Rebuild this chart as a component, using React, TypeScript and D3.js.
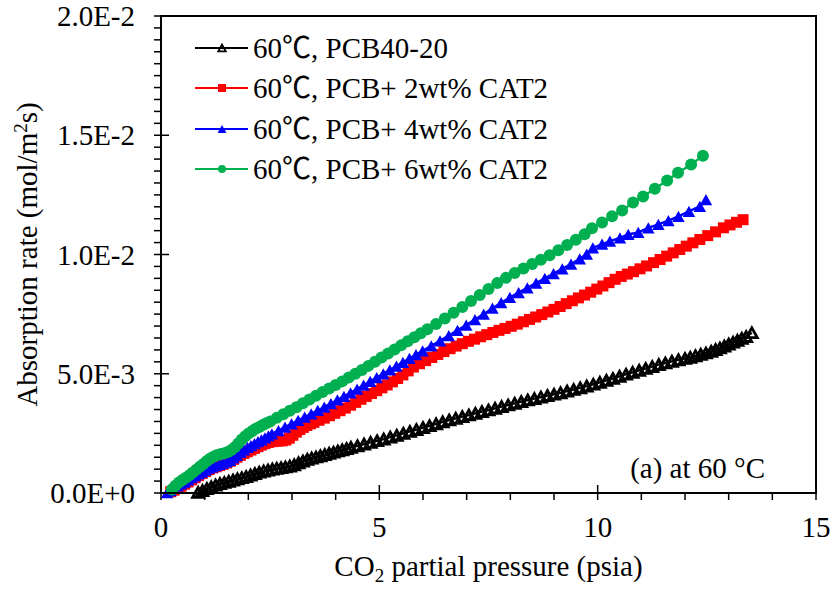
import React from "react";
import * as d3 from "d3";

// y values are in units of 1e-3 mol/(m2 s)
const xTickValues = [0, 5, 10, 15];
const xTickLabels = ["0", "5", "10", "15"];
const yTickValues = [0, 5, 10, 15, 20];
const yTickLabels = ["0.0E+0", "5.0E-3", "1.0E-2", "1.5E-2", "2.0E-2"];

const seriesNames = [
  "60\u2103, PCB40-20",
  "60\u2103, PCB+ 2wt% CAT2",
  "60\u2103, PCB+ 4wt% CAT2",
  "60\u2103, PCB+ 6wt% CAT2",
];
const seriesColors = ["#000000", "#FF0000", "#0000FF", "#00B050"];
const seriesMarkers = ["openTriangle", "square", "triangle", "circle"];

const pcb4020: [number, number][] = [
  [0.85, 0.03], [0.95, 0.1], [1.05, 0.18], [1.15, 0.26], [1.25, 0.33], [1.35, 0.39], [1.45, 0.44],
  [1.55, 0.49], [1.65, 0.54], [1.75, 0.59], [1.85, 0.64], [1.95, 0.69], [2.05, 0.75], [2.15, 0.81],
  [2.25, 0.87], [2.35, 0.92], [2.45, 0.96], [2.55, 1.0], [2.65, 1.03], [2.75, 1.06], [2.85, 1.09],
  [2.95, 1.13], [3.05, 1.18], [3.15, 1.26], [3.25, 1.34], [3.35, 1.41], [3.45, 1.46], [3.55, 1.51],
  [3.65, 1.56], [3.75, 1.61], [3.85, 1.66], [3.95, 1.71], [4.05, 1.76], [4.15, 1.81], [4.25, 1.86],
  [4.35, 1.91], [4.5, 1.98], [4.65, 2.05], [4.8, 2.12], [4.95, 2.19], [5.1, 2.26], [5.25, 2.34],
  [5.4, 2.42], [5.55, 2.5], [5.7, 2.58], [5.85, 2.66], [6.0, 2.74], [6.15, 2.82], [6.3, 2.9],
  [6.45, 2.98], [6.6, 3.06], [6.75, 3.13], [6.9, 3.2], [7.05, 3.27], [7.2, 3.34], [7.35, 3.41],
  [7.5, 3.48], [7.65, 3.55], [7.8, 3.62], [7.95, 3.69], [8.1, 3.76], [8.25, 3.83], [8.4, 3.9],
  [8.55, 3.96], [8.7, 4.02], [8.85, 4.08], [9.0, 4.14], [9.15, 4.2], [9.3, 4.27], [9.45, 4.34],
  [9.6, 4.41], [9.75, 4.48], [9.9, 4.56], [10.05, 4.64], [10.2, 4.72], [10.35, 4.8], [10.5, 4.89],
  [10.65, 4.98], [10.8, 5.06], [10.95, 5.14], [11.1, 5.22], [11.25, 5.3], [11.4, 5.38], [11.55, 5.45],
  [11.7, 5.52], [11.85, 5.58], [12.0, 5.64], [12.12, 5.69], [12.24, 5.75], [12.36, 5.81], [12.48, 5.87],
  [12.6, 5.94], [12.7, 6.01], [12.8, 6.08], [12.9, 6.16], [13.0, 6.24], [13.1, 6.32], [13.2, 6.4],
  [13.3, 6.48], [13.4, 6.56], [13.53, 6.72],
];

const cat2wt2: [number, number][] = [
  [0.22, 0.05], [0.3, 0.12], [0.38, 0.2], [0.46, 0.28], [0.54, 0.37], [0.62, 0.46], [0.7, 0.55],
  [0.78, 0.64], [0.86, 0.73], [0.94, 0.82], [1.02, 0.9], [1.1, 0.98], [1.18, 1.05], [1.26, 1.1],
  [1.34, 1.15], [1.42, 1.2], [1.5, 1.26], [1.58, 1.33], [1.66, 1.41], [1.74, 1.5], [1.82, 1.58],
  [1.9, 1.66], [1.98, 1.73], [2.06, 1.8], [2.14, 1.87], [2.22, 1.94], [2.3, 2.01], [2.38, 2.07],
  [2.46, 2.12], [2.54, 2.15], [2.62, 2.17], [2.7, 2.18], [2.78, 2.19], [2.86, 2.22], [2.94, 2.3],
  [3.02, 2.42], [3.1, 2.55], [3.18, 2.66], [3.26, 2.75], [3.34, 2.83], [3.42, 2.9], [3.5, 2.96],
  [3.62, 3.05], [3.74, 3.14], [3.86, 3.24], [3.98, 3.34], [4.1, 3.45], [4.22, 3.56], [4.34, 3.68],
  [4.46, 3.8], [4.58, 3.93], [4.7, 4.05], [4.82, 4.17], [4.94, 4.29], [5.06, 4.41], [5.18, 4.53],
  [5.3, 4.66], [5.42, 4.8], [5.54, 4.95], [5.66, 5.12], [5.78, 5.28], [5.92, 5.42], [6.06, 5.55],
  [6.2, 5.68], [6.34, 5.81], [6.48, 5.93], [6.62, 6.05], [6.76, 6.16], [6.9, 6.26], [7.04, 6.36],
  [7.18, 6.45], [7.32, 6.55], [7.46, 6.64], [7.6, 6.73], [7.74, 6.82], [7.88, 6.9], [8.02, 6.99],
  [8.16, 7.08], [8.3, 7.18], [8.44, 7.28], [8.58, 7.38], [8.72, 7.48], [8.86, 7.59], [9.0, 7.7],
  [9.14, 7.82], [9.28, 7.94], [9.42, 8.06], [9.56, 8.18], [9.7, 8.3], [9.84, 8.42], [9.98, 8.55],
  [10.12, 8.68], [10.26, 8.82], [10.4, 8.96], [10.54, 9.08], [10.68, 9.18], [10.82, 9.28], [10.97, 9.4],
  [11.12, 9.52], [11.28, 9.66], [11.43, 9.79], [11.58, 9.93], [11.73, 10.07], [11.88, 10.21],
  [12.03, 10.35], [12.18, 10.49], [12.34, 10.63], [12.52, 10.79], [12.7, 10.95], [12.88, 11.12],
  [13.03, 11.24], [13.18, 11.35], [13.33, 11.46],
];

const cat2wt4: [number, number][] = [
  [0.14, 0.02], [0.22, 0.1], [0.3, 0.2], [0.38, 0.3], [0.46, 0.38], [0.54, 0.46], [0.62, 0.55],
  [0.7, 0.64], [0.78, 0.72], [0.86, 0.8], [0.94, 0.88], [1.02, 0.96], [1.1, 1.04], [1.18, 1.1],
  [1.26, 1.15], [1.34, 1.2], [1.42, 1.25], [1.5, 1.3], [1.58, 1.37], [1.66, 1.47], [1.74, 1.58],
  [1.82, 1.7], [1.9, 1.81], [1.98, 1.91], [2.06, 1.99], [2.14, 2.07], [2.22, 2.15], [2.3, 2.23],
  [2.38, 2.31], [2.46, 2.39], [2.54, 2.48], [2.69, 2.62], [2.84, 2.76], [2.99, 2.9], [3.14, 3.04],
  [3.29, 3.18], [3.44, 3.32], [3.59, 3.46], [3.74, 3.6], [3.89, 3.75], [4.04, 3.9], [4.19, 4.05],
  [4.34, 4.2], [4.49, 4.36], [4.64, 4.52], [4.79, 4.68], [4.94, 4.84], [5.09, 5.0], [5.24, 5.16],
  [5.39, 5.32], [5.54, 5.48], [5.69, 5.64], [5.84, 5.8], [5.99, 5.96], [6.19, 6.17], [6.39, 6.38],
  [6.59, 6.6], [6.79, 6.82], [6.99, 7.04], [7.19, 7.27], [7.39, 7.5], [7.59, 7.75], [7.79, 7.98],
  [7.99, 8.2], [8.19, 8.4], [8.39, 8.6], [8.59, 8.8], [8.79, 9.0], [8.99, 9.2], [9.19, 9.4],
  [9.39, 9.6], [9.59, 9.82], [9.75, 10.02], [9.89, 10.28], [10.1, 10.43], [10.28, 10.56],
  [10.51, 10.7], [10.7, 10.84], [10.93, 10.93], [11.16, 11.12], [11.39, 11.26], [11.62, 11.42],
  [11.85, 11.6], [12.09, 11.81], [12.34, 12.02], [12.48, 12.3],
];

const cat2wt6: [number, number][] = [
  [0.25, 0.15], [0.33, 0.3], [0.41, 0.44], [0.49, 0.55], [0.57, 0.64], [0.65, 0.74], [0.73, 0.86],
  [0.81, 0.98], [0.89, 1.1], [0.97, 1.22], [1.05, 1.34], [1.13, 1.45], [1.21, 1.53], [1.29, 1.59],
  [1.37, 1.63], [1.45, 1.67], [1.53, 1.72], [1.61, 1.8], [1.69, 1.92], [1.77, 2.08], [1.85, 2.24],
  [1.93, 2.38], [2.01, 2.5], [2.09, 2.6], [2.17, 2.69], [2.25, 2.77], [2.33, 2.85], [2.41, 2.92],
  [2.5, 3.0], [2.65, 3.15], [2.8, 3.3], [2.95, 3.45], [3.1, 3.6], [3.25, 3.76], [3.4, 3.92],
  [3.55, 4.08], [3.7, 4.23], [3.85, 4.38], [4.0, 4.53], [4.15, 4.68], [4.3, 4.84], [4.45, 5.0],
  [4.6, 5.16], [4.75, 5.33], [4.9, 5.5], [5.05, 5.68], [5.2, 5.85], [5.35, 6.02], [5.5, 6.19],
  [5.65, 6.36], [5.8, 6.53], [5.95, 6.7], [6.1, 6.87], [6.3, 7.09], [6.5, 7.32], [6.7, 7.56],
  [6.9, 7.8], [7.1, 8.05], [7.3, 8.3], [7.5, 8.55], [7.7, 8.8], [7.9, 9.02], [8.1, 9.22],
  [8.3, 9.41], [8.5, 9.6], [8.7, 9.78], [8.9, 9.97], [9.1, 10.18], [9.3, 10.4], [9.5, 10.62],
  [9.7, 10.85], [9.87, 11.1], [10.1, 11.34], [10.33, 11.6], [10.56, 11.84], [10.81, 12.18],
  [11.04, 12.43], [11.31, 12.76], [11.59, 13.1], [11.84, 13.43], [12.14, 13.77], [12.41, 14.14],
];

const allSeries = [pcb4020, cat2wt2, cat2wt4, cat2wt6];

const W = 835;
const H = 590;
const plot = { left: 161, right: 816, top: 16, bottom: 493 };
const FONT = "'Liberation Serif', 'Times New Roman', 'Noto Sans CJK SC', serif";
const FS = 29;

function Marker({ kind, x, y, color, s, sw = 2.2 }: { kind: string; x: number; y: number; color: string; s: number; sw?: number }) {
  if (kind === "circle") {
    return <circle cx={x} cy={y} r={s / 2} fill={color} />;
  }
  if (kind === "square") {
    return <rect x={x - s / 2} y={y - s / 2} width={s} height={s} fill={color} />;
  }
  const h = s * 0.9;
  const pts = `${x - s / 2},${y + h / 2} ${x + s / 2},${y + h / 2} ${x},${y - h / 2}`;
  if (kind === "openTriangle") {
    return <polygon points={pts} fill="none" stroke={color} strokeWidth={sw} />;
  }
  return <polygon points={pts} fill={color} />;
}

export default function App() {
  const x = d3.scaleLinear().domain([0, 15]).range([plot.left, plot.right]);
  const y = d3.scaleLinear().domain([0, 20]).range([plot.bottom, plot.top]);
  const line = d3
    .line<[number, number]>()
    .x((d) => x(d[0]))
    .y((d) => y(d[1]));

  const xMinor = d3.range(0, 15.001, 1).filter((v) => v % 5 !== 0);
  const yMinor = d3.range(0, 20.001, 0.5).filter((v) => Math.abs(v % 5) > 1e-6);

  const markerSizes = [11, 11, 12.5, 12];
  const legendSizes = [7.5, 8, 9, 8];
  const legendRows = [48, 88, 129, 169];

  return (
    <svg
      width={W}
      height={H}
      style={{ position: "absolute", left: 0, top: 0, background: "#fff" }}
      fontFamily={FONT}
    >
      <rect x={0} y={0} width={W} height={H} fill="#fff" />
      {allSeries.map((data, i) => (
        <g key={i}>
          <path d={line(data) || ""} fill="none" stroke={seriesColors[i]} strokeWidth={2.4} />
          {data.map((d, j) => (
            <Marker
              key={j}
              kind={seriesMarkers[i]}
              x={x(d[0])}
              y={y(d[1])}
              color={seriesColors[i]}
              s={markerSizes[i]}
              sw={2.8}
            />
          ))}
        </g>
      ))}
      <rect
        x={plot.left}
        y={plot.top}
        width={plot.right - plot.left}
        height={plot.bottom - plot.top}
        fill="none"
        stroke="#000"
        strokeWidth={2}
      />
      {xMinor.map((v) => (
        <line key={"xm" + v} x1={x(v)} x2={x(v)} y1={plot.bottom} y2={plot.bottom + 7} stroke="#000" strokeWidth={1.5} />
      ))}
      {xTickValues.map((v, i) => (
        <g key={"xt" + v}>
          <line x1={x(v)} x2={x(v)} y1={plot.bottom - 8} y2={plot.bottom + 7} stroke="#000" strokeWidth={1.5} />
          <text x={x(v)} y={plot.bottom + 44} textAnchor="middle" fontSize={FS}>
            {xTickLabels[i]}
          </text>
        </g>
      ))}
      {yMinor.map((v) => (
        <line key={"ym" + v} x1={plot.left - 7} x2={plot.left} y1={y(v)} y2={y(v)} stroke="#000" strokeWidth={1.5} />
      ))}
      {yTickValues.map((v, i) => (
        <g key={"yt" + v}>
          <line x1={plot.left - 7} x2={plot.left + 8} y1={y(v)} y2={y(v)} stroke="#000" strokeWidth={1.5} />
          <text x={135} y={y(v) + 10} textAnchor="end" fontSize={FS}>
            {yTickLabels[i]}
          </text>
        </g>
      ))}
      <text x={(plot.left + plot.right) / 2} y={576} textAnchor="middle" fontSize={FS}>
        CO
        <tspan fontSize={19} dy={6}>2</tspan>
        <tspan dy={-6}> partial pressure (psia)</tspan>
      </text>
      <text
        transform={`translate(37, ${(plot.top + plot.bottom) / 2}) rotate(-90)`}
        textAnchor="middle"
        fontSize={FS}
      >
        Absorption rate (mol/m
        <tspan fontSize={19} dy={-10}>2</tspan>
        <tspan dy={10}>s)</tspan>
      </text>
      {seriesNames.map((name, i) => (
        <g key={"lg" + i}>
          <line x1={195} x2={248} y1={legendRows[i]} y2={legendRows[i]} stroke={seriesColors[i]} strokeWidth={2} />
          <Marker kind={seriesMarkers[i]} x={222} y={legendRows[i]} color={seriesColors[i]} s={legendSizes[i]} sw={1.8} />
          <text x={253} y={legendRows[i] + 10} fontSize={FS}>
            {name}
          </text>
        </g>
      ))}
      <text x={765} y={478} textAnchor="end" fontSize={FS}>
        (a) at 60 °C
      </text>
    </svg>
  );
}
